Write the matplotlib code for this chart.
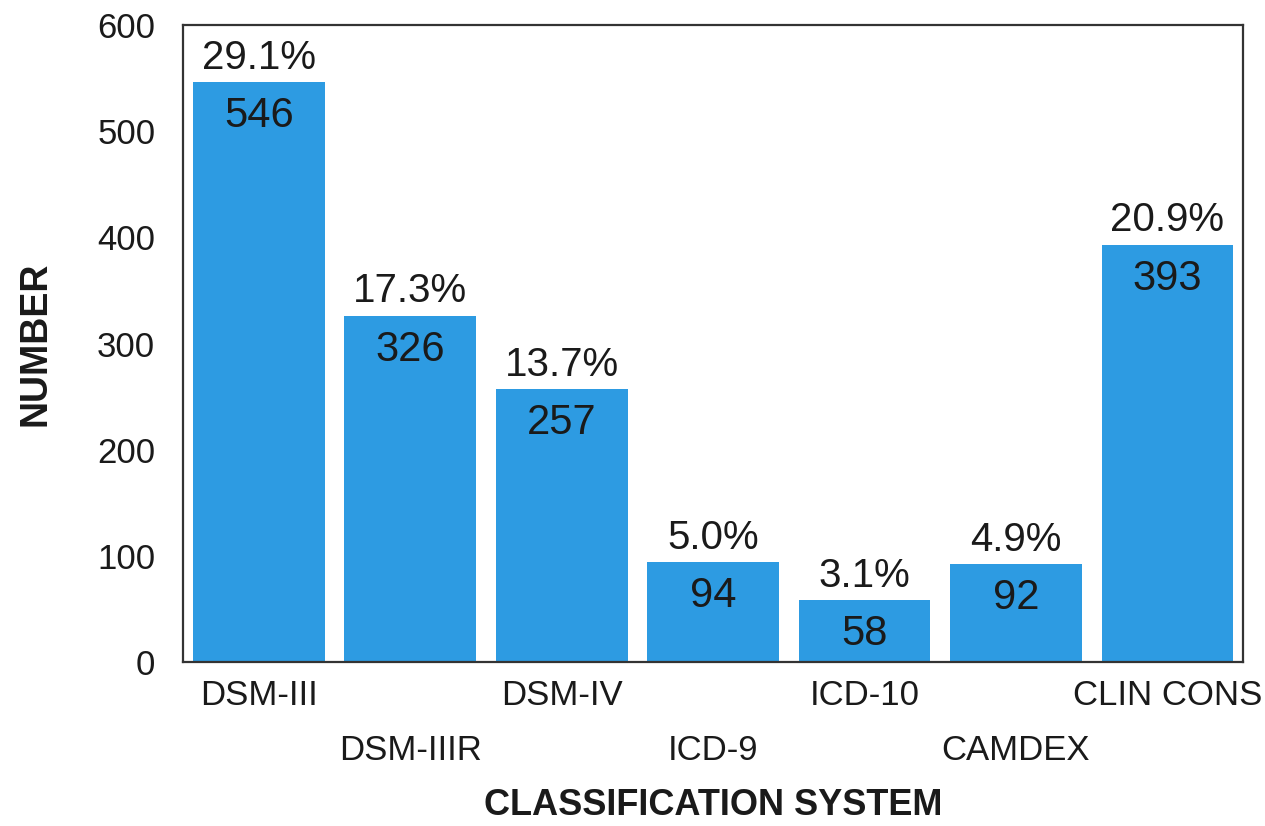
import matplotlib
matplotlib.use("Agg")
import matplotlib.pyplot as plt
from matplotlib.transforms import ScaledTranslation

systems = ["DSM-III", "DSM-IIIR", "DSM-IV", "ICD-9", "ICD-10", "CAMDEX", "CLIN CONS"]
counts = [546, 326, 257, 94, 58, 92, 393]
shares = ["29.1%", "17.3%", "13.7%", "5.0%", "3.1%", "4.9%", "20.9%"]

plt.rcParams["font.family"] = ["Liberation Sans", "DejaVu Sans"]
fs_tick, fs_cat, fs_pct, fs_val = 25, 25, 29, 30

ink = "#1a1a1a"
fig = plt.figure(figsize=(12.65, 8.26), dpi=100)
ax = fig.add_axes([0.1447, 0.1985, 0.838, 0.7712])

x = range(len(systems))
ax.bar(x, counts, width=0.87, color="#2d9be2")

for i, (n, p) in enumerate(zip(counts, shares)):
    ax.annotate(p, (i, n), xytext=(0, 4), textcoords="offset points",
                ha="center", va="bottom", fontsize=fs_pct, color=ink)
    ax.annotate(str(n), (i, n), xytext=(0, -10), textcoords="offset points",
                ha="center", va="top", fontsize=fs_val, color=ink)

ax.set_xlim(-0.5, 6.5)
ax.set_ylim(0, 600)
ax.set_yticks(range(0, 601, 100))
ax.set_xticks(list(x))
ax.set_xticklabels(systems, fontsize=fs_cat, color=ink)
ax.tick_params(axis="both", length=0, labelsize=fs_tick, colors=ink)
ax.tick_params(axis="x", pad=12, labelsize=fs_cat)
ax.tick_params(axis="y", pad=20)

# stagger every second category label one row lower
for i, lab in enumerate(ax.get_xticklabels()):
    if i % 2 == 1:
        lab.set_transform(lab.get_transform() + ScaledTranslation(0, -0.55, fig.dpi_scale_trans))

for s in ax.spines.values():
    s.set_linewidth(1.6)
    s.set_color("#333333")

ax.set_xlabel("CLASSIFICATION SYSTEM", fontsize=26, fontweight="bold", color=ink)
ax.xaxis.set_label_coords(0.5, -0.198)
ax.set_ylabel("NUMBER", fontsize=27, fontweight="bold", color=ink)
ax.yaxis.set_label_coords(-0.122, 0.5)

fig.savefig("out.png", dpi=100)
